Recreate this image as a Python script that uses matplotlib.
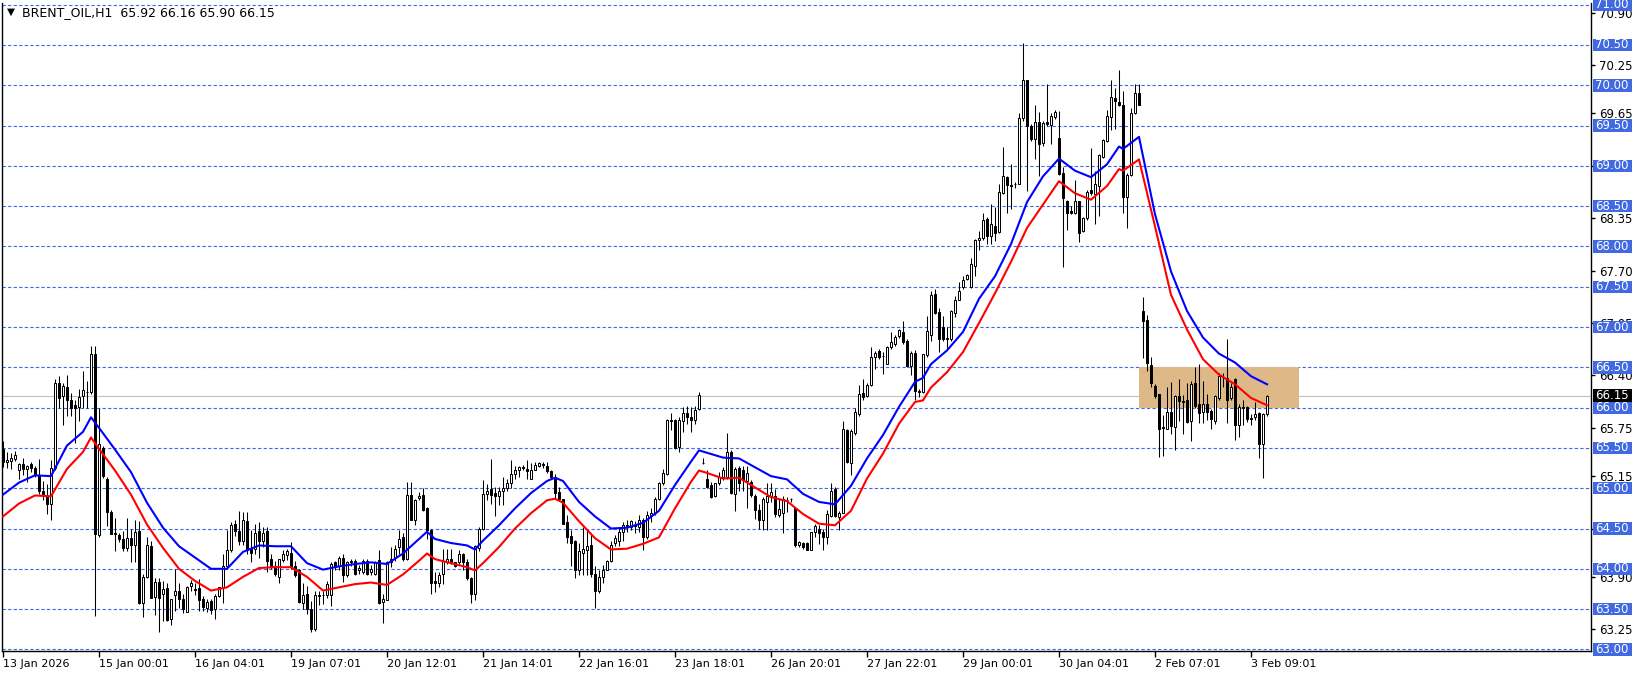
import matplotlib
matplotlib.use('Agg')
import matplotlib.pyplot as plt
from matplotlib.patches import Rectangle
from matplotlib.transforms import blended_transform_factory
import numpy as np

# --- chart values (BRENT_OIL, H1) ---
title = 'BRENT_OIL,H1  65.92 66.16 65.90 66.15'

opens = [
    65.49, 65.32, 65.34, 65.36, 65.23, 65.30, 65.24, 65.30, 65.25, 65.17,
    64.97, 64.90, 64.80, 65.25, 66.30, 66.14, 66.26, 66.10, 66.03, 66.01,
    66.14, 66.20, 66.19, 66.67, 64.42, 65.50, 65.12, 64.70, 64.45, 64.42,
    64.37, 64.26, 64.38, 64.29, 64.47, 63.57, 63.90, 64.28, 63.65, 63.84,
    63.69, 63.76, 63.38, 63.67, 63.73, 63.63, 63.47, 63.79, 63.75, 63.76,
    63.62, 63.51, 63.60, 63.50, 63.66, 63.77, 64.03, 64.23, 64.55, 64.47,
    64.34, 64.59, 64.25, 64.24, 64.47, 64.35, 64.47, 64.12, 64.04, 63.90,
    64.11, 64.17, 64.20, 64.04, 63.99, 63.58, 63.69, 63.50, 63.25, 63.66,
    63.67, 63.68, 63.67, 64.08, 64.03, 64.14, 63.92, 64.08, 64.10, 63.98,
    63.96, 64.10, 63.96, 63.94, 64.11, 63.59, 63.61, 64.08, 64.14, 64.27,
    64.39, 64.12, 64.92, 64.61, 64.88, 64.92, 64.75, 64.48, 63.85, 63.83,
    63.94, 64.08, 64.12, 64.08, 64.08, 64.18, 64.08, 63.88, 63.69, 64.26,
    64.50, 64.93, 64.99, 64.94, 64.90, 64.96, 65.00, 65.06, 65.18, 65.23,
    65.26, 65.24, 65.12, 65.23, 65.27, 65.30, 65.28, 65.21, 65.14, 64.95,
    64.87, 64.58, 64.41, 64.34, 63.99, 64.20, 64.23, 64.30, 63.94, 63.72,
    63.90, 63.99, 64.10, 64.32, 64.34, 64.46, 64.54, 64.52, 64.54, 64.52,
    64.61, 64.40, 64.67, 64.69, 64.87, 65.06, 65.18, 65.85, 65.85, 65.51,
    65.84, 65.93, 65.89, 65.85, 65.98, 65.31, 65.12, 65.04, 64.90, 65.06,
    65.14, 65.14, 65.45, 64.93, 65.25, 65.22, 65.09, 65.08, 64.90, 64.73,
    64.61, 64.83, 64.90, 64.90, 64.67, 64.69, 64.86, 64.87, 64.75, 64.29,
    64.32, 64.32, 64.23, 64.46, 64.50, 64.46, 64.39, 64.66, 64.99, 64.64,
    64.69, 65.72, 65.31, 65.68, 65.92, 66.18, 66.15, 66.28, 66.63, 66.70,
    66.64, 66.54, 66.75, 66.79, 66.89, 66.94, 66.83, 66.52, 66.68, 66.21,
    66.19, 66.65, 66.90, 67.41, 67.19, 67.00, 66.85, 66.85, 67.17, 67.33,
    67.50, 67.60, 67.50, 67.76, 68.08, 68.10, 68.34, 68.13, 68.26, 68.18,
    68.66, 68.86, 68.76, 68.77, 68.78, 69.59, 70.07, 69.50, 69.33, 69.55,
    69.28, 69.55, 69.51, 69.61, 69.35, 68.91, 68.57, 68.44, 68.42, 68.57,
    68.19, 68.35, 68.70, 68.65, 68.75, 69.11, 69.31, 69.61, 69.84, 69.79,
    69.76, 68.61, 68.89, 69.66, 69.90, 67.20, 67.09, 66.53, 66.27, 66.17,
    65.76, 65.73, 65.94, 65.76, 66.15, 66.08, 66.09, 65.84, 66.30, 66.04,
    65.94, 66.04, 65.96, 65.84, 66.12, 66.38, 66.37, 66.12, 66.36, 65.79,
    66.01, 66.01, 65.87, 65.88, 65.93, 65.55, 65.92,
]
highs = [
    65.58, 65.45, 65.44, 65.46, 65.31, 65.38, 65.29, 65.33, 65.27, 65.36,
    65.09, 65.05, 65.35, 66.36, 66.39, 66.31, 66.41, 66.18, 66.10, 66.23,
    66.45, 66.33, 66.76, 66.76, 66.00, 65.52, 65.14, 64.73, 64.63, 64.45,
    64.47, 64.63, 64.50, 64.61, 64.59, 63.93, 64.40, 64.35, 63.88, 63.88,
    63.85, 63.83, 63.63, 64.00, 63.83, 63.69, 63.79, 63.86, 63.82, 63.87,
    63.66, 63.63, 63.63, 63.69, 63.78, 64.19, 64.48, 64.58, 64.60, 64.72,
    64.70, 64.70, 64.48, 64.56, 64.58, 64.52, 64.52, 64.18, 64.10, 64.12,
    64.23, 64.25, 64.33, 64.10, 64.00, 63.82, 63.79, 63.60, 63.73, 63.73,
    63.72, 63.85, 64.08, 64.10, 64.16, 64.18, 64.10, 64.12, 64.12, 64.05,
    64.12, 64.12, 64.05, 64.10, 64.23, 63.69, 64.10, 64.27, 64.29, 64.48,
    64.44, 65.08, 65.08, 64.87, 64.95, 65.00, 64.77, 64.50, 63.96, 63.96,
    64.25, 64.25, 64.25, 64.08, 64.23, 64.20, 64.12, 63.90, 64.30, 64.52,
    65.10, 65.05, 65.36, 65.02, 65.02, 65.14, 65.11, 65.35, 65.28, 65.28,
    65.29, 65.35, 65.31, 65.33, 65.33, 65.33, 65.33, 65.23, 65.18, 65.02,
    64.87, 64.67, 64.48, 64.36, 64.32, 64.52, 64.50, 64.44, 64.03, 63.98,
    64.05, 64.11, 64.35, 64.42, 64.52, 64.58, 64.61, 64.61, 64.59, 64.67,
    64.63, 64.72, 64.75, 64.89, 65.08, 65.24, 65.86, 65.93, 65.86, 65.88,
    66.01, 66.02, 66.01, 66.02, 66.19, 65.38, 65.23, 65.08, 65.06, 65.20,
    65.26, 65.68, 65.47, 65.26, 65.28, 65.28, 65.28, 65.10, 64.93, 64.81,
    64.89, 65.06, 65.06, 64.99, 64.87, 64.90, 64.89, 64.88, 64.77, 64.35,
    64.33, 64.33, 64.46, 64.56, 64.54, 64.50, 64.73, 65.06, 65.01, 64.72,
    65.84, 65.74, 65.73, 65.99, 66.28, 66.36, 66.30, 66.75, 66.70, 66.73,
    66.69, 66.76, 66.94, 66.90, 66.98, 67.08, 66.85, 66.70, 66.72, 66.23,
    66.67, 67.14, 67.45, 67.47, 67.24, 67.14, 67.00, 67.21, 67.39, 67.56,
    67.63, 67.66, 67.86, 68.09, 68.19, 68.41, 68.36, 68.53, 68.49, 68.77,
    69.23, 68.88, 69.02, 68.80, 69.66, 70.53, 70.07, 69.52, 69.75, 69.67,
    69.56, 70.01, 69.66, 69.69, 69.68, 68.98, 68.58, 68.50, 68.83, 68.57,
    68.36, 68.70, 69.22, 68.94, 69.15, 69.33, 69.69, 70.07, 69.97, 70.19,
    69.93, 68.91, 69.72, 70.02, 70.02, 67.37, 67.15, 66.63, 66.29, 66.17,
    65.91, 66.25, 66.32, 66.16, 66.36, 66.16, 66.31, 66.33, 66.50, 66.54,
    66.33, 66.17, 65.98, 66.16, 66.43, 66.43, 66.85, 66.30, 66.37, 66.04,
    66.09, 66.02, 65.92, 66.07, 65.94, 65.93, 66.16,
]
lows = [
    65.26, 65.25, 65.24, 65.34, 65.11, 65.17, 65.08, 65.20, 65.14, 64.93,
    64.86, 64.68, 64.60, 65.23, 66.00, 65.79, 65.90, 65.90, 65.56, 65.83,
    66.00, 65.99, 66.17, 63.41, 64.40, 65.13, 64.53, 64.43, 64.22, 64.33,
    64.22, 64.22, 64.09, 64.09, 63.56, 63.40, 63.89, 63.64, 63.43, 63.21,
    63.35, 63.35, 63.30, 63.48, 63.51, 63.45, 63.46, 63.72, 63.68, 63.48,
    63.48, 63.47, 63.44, 63.38, 63.65, 63.57, 64.01, 64.21, 64.41, 64.30,
    64.30, 64.19, 64.09, 64.19, 64.13, 64.27, 63.96, 64.00, 63.91, 63.83,
    64.08, 64.11, 64.00, 63.90, 63.57, 63.50, 63.44, 63.21, 63.23, 63.55,
    63.56, 63.64, 63.54, 63.98, 63.98, 63.84, 63.90, 64.04, 63.92, 63.94,
    63.94, 63.92, 63.92, 63.92, 63.56, 63.33, 63.61, 64.02, 64.10, 64.19,
    64.10, 64.11, 64.60, 64.54, 64.86, 64.72, 64.37, 63.69, 63.71, 63.77,
    63.81, 64.06, 64.06, 64.02, 64.06, 63.98, 63.86, 63.57, 63.61, 64.22,
    64.48, 64.85, 64.81, 64.65, 64.79, 64.79, 64.96, 65.00, 65.12, 65.14,
    65.23, 65.12, 65.12, 65.23, 65.26, 65.25, 65.19, 65.12, 64.87, 64.85,
    64.55, 64.32, 64.03, 63.88, 63.92, 63.92, 63.92, 63.90, 63.51, 63.70,
    63.82, 63.98, 64.09, 64.28, 64.28, 64.34, 64.46, 64.48, 64.44, 64.46,
    64.23, 64.37, 64.58, 64.67, 64.85, 65.04, 65.17, 65.72, 65.49, 65.45,
    65.70, 65.80, 65.70, 65.80, 65.97, 65.30, 65.00, 64.88, 64.89, 65.04,
    65.10, 65.12, 64.93, 64.72, 64.97, 64.97, 64.75, 64.89, 64.62, 64.50,
    64.48, 64.48, 64.83, 64.64, 64.64, 64.44, 64.70, 64.83, 64.27, 64.27,
    64.25, 64.23, 64.23, 64.40, 64.31, 64.23, 64.31, 64.64, 64.64, 64.48,
    64.69, 65.31, 65.16, 65.66, 65.90, 66.10, 66.13, 66.27, 66.48, 66.60,
    66.42, 66.54, 66.73, 66.77, 66.87, 66.79, 66.51, 66.41, 66.09, 66.13,
    66.18, 66.63, 66.83, 67.16, 66.69, 66.83, 66.71, 66.83, 67.13, 67.33,
    67.47, 67.58, 67.49, 67.63, 67.95, 68.08, 68.03, 68.03, 68.07, 68.17,
    68.65, 68.41, 68.46, 68.72, 68.77, 69.56, 68.69, 69.31, 69.08, 68.88,
    69.25, 69.50, 69.27, 69.58, 68.89, 67.74, 68.21, 68.40, 68.40, 68.05,
    68.18, 68.33, 68.64, 68.28, 68.38, 69.10, 69.30, 69.44, 69.46, 69.74,
    68.42, 68.23, 68.88, 69.64, 69.75, 66.62, 66.45, 66.26, 66.12, 65.39,
    65.40, 65.73, 65.67, 65.47, 65.83, 65.67, 65.81, 65.58, 66.00, 65.81,
    65.81, 65.85, 65.73, 65.80, 66.10, 66.25, 65.81, 66.10, 65.60, 65.63,
    65.78, 65.82, 65.79, 65.85, 65.37, 65.13, 65.90,
]
closes = [
    65.32, 65.35, 65.37, 65.41, 65.30, 65.24, 65.28, 65.25, 65.17, 64.97,
    64.90, 64.81, 65.25, 66.31, 66.12, 66.27, 66.10, 65.99, 66.00, 66.13,
    66.22, 66.19, 66.67, 64.43, 65.55, 65.15, 64.70, 64.43, 64.43, 64.37,
    64.26, 64.38, 64.29, 64.46, 63.58, 63.90, 64.30, 63.64, 63.84, 63.64,
    63.75, 63.36, 63.63, 63.73, 63.63, 63.50, 63.78, 63.82, 63.74, 63.61,
    63.52, 63.59, 63.49, 63.66, 63.77, 64.03, 64.23, 64.54, 64.47, 64.34,
    64.60, 64.23, 64.20, 64.45, 64.34, 64.45, 64.10, 64.04, 63.93, 64.12,
    64.19, 64.22, 64.02, 63.92, 63.59, 63.67, 63.50, 63.25, 63.67, 63.68,
    63.68, 63.81, 64.06, 64.02, 64.14, 63.92, 64.08, 64.10, 63.94, 64.01,
    64.10, 63.94, 64.00, 64.08, 63.57, 63.63, 64.08, 64.12, 64.25, 64.37,
    64.12, 64.92, 64.61, 64.86, 64.90, 64.73, 64.48, 63.83, 63.83, 63.92,
    64.10, 64.12, 64.08, 64.04, 64.18, 64.08, 63.88, 63.69, 64.28, 64.50,
    64.93, 64.96, 64.91, 64.90, 64.96, 65.00, 65.07, 65.18, 65.23, 65.26,
    65.25, 65.21, 65.23, 65.29, 65.31, 65.29, 65.21, 65.14, 64.94, 64.87,
    64.56, 64.40, 64.32, 63.99, 64.22, 64.25, 64.28, 63.94, 63.72, 63.90,
    63.99, 64.10, 64.30, 64.38, 64.46, 64.54, 64.52, 64.59, 64.53, 64.61,
    64.40, 64.67, 64.69, 64.87, 65.06, 65.19, 65.85, 65.84, 65.50, 65.85,
    65.93, 65.89, 65.85, 65.97, 66.16, 65.31, 65.01, 64.89, 65.06, 65.14,
    65.22, 65.45, 64.94, 65.24, 65.06, 65.10, 65.19, 64.91, 64.73, 64.61,
    64.87, 64.90, 64.95, 64.68, 64.74, 64.87, 64.86, 64.87, 64.29, 64.33,
    64.27, 64.23, 64.46, 64.53, 64.44, 64.39, 64.68, 64.97, 64.66, 64.69,
    65.74, 65.32, 65.71, 65.94, 66.17, 66.13, 66.28, 66.63, 66.68, 66.63,
    66.64, 66.75, 66.81, 66.88, 66.96, 66.81, 66.52, 66.68, 66.21, 66.19,
    66.66, 66.95, 67.40, 67.17, 66.85, 66.85, 66.86, 67.20, 67.34, 67.45,
    67.58, 67.64, 67.78, 68.08, 68.10, 68.33, 68.13, 68.28, 68.17, 68.67,
    68.88, 68.76, 68.75, 68.78, 69.59, 70.07, 69.50, 69.33, 69.54, 69.27,
    69.53, 69.52, 69.62, 69.67, 68.90, 68.60, 68.41, 68.42, 68.57, 68.17,
    68.35, 68.68, 68.66, 68.77, 69.13, 69.32, 69.62, 69.86, 69.80, 69.75,
    68.61, 68.89, 69.66, 69.90, 69.76, 67.07, 66.55, 66.30, 66.14, 65.74,
    65.75, 65.95, 65.77, 66.15, 66.08, 66.07, 65.82, 66.29, 66.02, 65.93,
    66.05, 65.95, 65.86, 66.14, 66.39, 66.38, 66.10, 66.25, 65.78, 66.01,
    66.00, 65.86, 65.86, 65.92, 65.55, 65.92, 66.15,
]

# moving averages (blue / red), read at these bar numbers
ma_bars = [0, 4, 8, 12, 16, 20, 22, 24, 28, 32, 36, 40, 44, 48, 52, 56, 60, 64,
           68, 72, 76, 80, 84, 88, 92, 96, 100, 104, 106, 108, 112, 116, 118, 120,
           124, 128, 132, 136, 138, 140, 144, 148, 152, 156, 160, 164, 168, 172,
           174, 176, 180, 184, 188, 192, 196, 200, 204, 208, 212, 216, 220, 224,
           228, 230, 232, 236, 240, 244, 248, 252, 256, 260, 264, 268, 272, 276,
           279, 280, 284, 288, 292, 296, 300, 304, 308, 312, 316]
ma_blue = [64.92, 65.07, 65.16, 65.15, 65.53, 65.70, 65.88, 65.75, 65.48, 65.20,
           64.82, 64.51, 64.28, 64.14, 64.00, 64.00, 64.21, 64.29, 64.28, 64.28,
           64.07, 63.99, 64.03, 64.06, 64.08, 64.06, 64.19, 64.37, 64.46, 64.37,
           64.32, 64.29, 64.24, 64.35, 64.54, 64.75, 64.94, 65.09, 65.13, 65.09,
           64.83, 64.65, 64.50, 64.51, 64.57, 64.72, 65.04, 65.33, 65.47, 65.44,
           65.38, 65.37, 65.26, 65.15, 65.11, 64.93, 64.83, 64.80, 65.03, 65.37,
           65.66, 66.01, 66.32, 66.37, 66.54, 66.71, 66.94, 67.35, 67.63, 68.03,
           68.55, 68.87, 69.09, 68.94, 68.86, 69.02, 69.24, 69.21, 69.36, 68.40,
           67.69, 67.20, 66.87, 66.67, 66.56, 66.39, 66.29]
ma_red = [64.65, 64.81, 64.91, 64.90, 65.24, 65.45, 65.63, 65.49, 65.22, 64.92,
          64.55, 64.26, 64.00, 63.85, 63.73, 63.77, 63.90, 64.01, 64.02, 64.02,
          63.90, 63.73, 63.77, 63.81, 63.83, 63.80, 63.93, 64.10, 64.19, 64.12,
          64.07, 64.02, 63.98, 64.07, 64.27, 64.50, 64.69, 64.85, 64.87, 64.82,
          64.59, 64.38, 64.24, 64.25, 64.31, 64.39, 64.75, 65.08, 65.22, 65.19,
          65.12, 65.13, 65.01, 64.89, 64.84, 64.68, 64.56, 64.54, 64.72, 65.12,
          65.43, 65.80, 66.07, 66.09, 66.25, 66.44, 66.69, 67.05, 67.42, 67.81,
          68.23, 68.52, 68.81, 68.66, 68.58, 68.75, 68.96, 68.94, 69.08, 68.25,
          67.40, 66.97, 66.60, 66.41, 66.29, 66.12, 66.03]

level_lines = [63.0, 63.5, 64.0, 64.5, 65.0, 65.5, 66.0, 66.5, 67.0, 67.5,
               68.0, 68.5, 69.0, 69.5, 70.0, 70.5, 71.0]
# scale ticks; the ones at 69.00 and 64.50 sit fully under the level boxes
scale_ticks = [70.90, 70.25, 69.65, 69.00, 68.35, 67.70, 67.05, 66.40, 65.75,
               65.15, 64.50, 63.90, 63.25]
date_bars = [0, 24, 48, 72, 96, 120, 144, 168, 192, 216, 240, 264, 288, 312]
date_labels = ['13 Jan 2026', '15 Jan 00:01', '16 Jan 04:01', '19 Jan 07:01',
               '20 Jan 12:01', '21 Jan 14:01', '22 Jan 16:01', '23 Jan 18:01',
               '26 Jan 20:01', '27 Jan 22:01', '29 Jan 00:01', '30 Jan 04:01',
               '2 Feb 07:01', '3 Feb 09:01']
zone_bars = [284, 324]
zone_prices = [66.0, 66.5]
bid = 66.15

W, H = 1641, 674
fig = plt.figure(figsize=(W / 100, H / 100), dpi=100)
fig.patch.set_facecolor('white')
# plot area: x 2..1591 px, y 3..651 px
ax = fig.add_axes([2 / W, 1 - 651 / H, (1591 - 2) / W, (651 - 3) / H])
ax.set_autoscale_on(False)
ppu = 80.59  # pixels per price unit
ax.set_ylim(63 - 1.6 / ppu, 71 + 1.7 / ppu)
ax.set_xlim(-0.25, 397)

# level lines and bid line
for lvl in level_lines:
    ax.axhline(lvl, color='#4169e1', lw=0.8, linestyle=(0, (3, 2)), zorder=1)
ax.axhline(bid, color='#c0c0c0', lw=0.8, zorder=1)

# zone rectangle
ax.add_patch(Rectangle((zone_bars[0], zone_prices[0]), zone_bars[1] - zone_bars[0],
                       zone_prices[1] - zone_prices[0], facecolor='#deb887',
                       edgecolor='none', zorder=2))

# candles
o = np.array(opens)
h = np.array(highs)
l = np.array(lows)
c = np.array(closes)
x = np.arange(len(o))
ax.vlines(x, l, h, colors='black', linewidth=0.75, zorder=3)
fills = ['white' if cc >= oo else 'black' for oo, cc in zip(o, c)]
ax.bar(x, np.abs(c - o), bottom=np.minimum(o, c), width=0.5, color=fills,
       edgecolor='black', linewidth=0.72, zorder=4)

# moving averages
ax.plot(ma_bars, ma_blue, color='#0000ff', lw=1.5, zorder=5)
ax.plot(ma_bars, ma_red, color='#ff0000', lw=1.5, zorder=5)

# frame
ax.spines['top'].set_visible(False)
for s in ['left', 'bottom', 'right']:
    ax.spines[s].set_color('black')
    ax.spines[s].set_linewidth(1)

# price scale (labels hidden where a level box covers them completely)
hidden = [69.00, 64.50]
ax.yaxis.tick_right()
ax.set_yticks(scale_ticks)
ax.set_yticklabels(['' if v in hidden else '%.2f' % v for v in scale_ticks])
ax.tick_params(axis='y', length=3, width=1, pad=3, labelsize=8.5, colors='black')

# time scale
ax.set_xticks(date_bars)
ax.set_xticklabels(date_labels, ha='left')
ax.tick_params(axis='x', length=4, width=1, pad=1.5, labelsize=8, colors='black')

trans = blended_transform_factory(fig.transFigure, ax.transData)
box_h = 12.5 / ppu
for lvl in level_lines:
    ax.add_patch(Rectangle((1592.5 / W, lvl - box_h / 2), 39 / W, box_h,
                           transform=trans, facecolor='#4169e1', edgecolor='none',
                           clip_on=False, zorder=6))
    ax.text(1595 / W, lvl, '%.2f' % lvl, transform=trans, color='white',
            fontsize=8.5, va='center', ha='left', clip_on=False, zorder=7)
ax.add_patch(Rectangle((1592.5 / W, bid - box_h / 2), 39 / W, box_h,
                       transform=trans, facecolor='black', edgecolor='none',
                       clip_on=False, zorder=6))
ax.text(1595 / W, bid, '%.2f' % bid, transform=trans, color='white',
        fontsize=8.5, va='center', ha='left', clip_on=False, zorder=7)

# title
fig.text(6.5 / W, 1 - 12 / H, '\u25bc', fontsize=7.5, va='center', ha='left')
fig.text(21.5 / W, 1 - 12.3 / H, title, fontsize=9, va='center', ha='left')

fig.savefig('out.png', dpi=100, facecolor='white')
